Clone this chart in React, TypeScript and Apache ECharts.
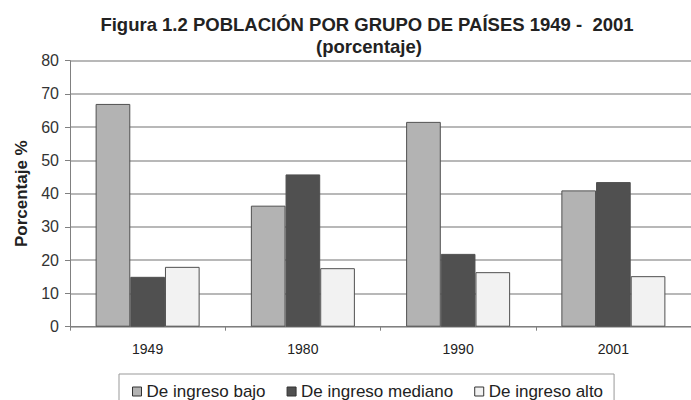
import React, { useEffect, useRef } from "react";
import * as echarts from "echarts";

const categories = ["1949", "1980", "1990", "2001"];
const seriesNames = ["De ingreso bajo", "De ingreso mediano", "De ingreso alto"];
const bajo = [67, 36.4, 61.6, 41];
const mediano = [15, 45.8, 21.9, 43.5];
const alto = [18, 17.6, 16.4, 15.2];
const colors = ["#b3b3b3", "#505050", "#f2f2f2"];
const yTicks = { min: 0, max: 80, interval: 10 };

const FONT = "'Liberation Sans', Arial, sans-serif";

export default function App() {
  const ref = useRef<HTMLDivElement>(null);
  useEffect(() => {
    document.body.style.margin = "0";
    const chart = echarts.init(ref.current!, null, { renderer: "svg" });
    const values = [bajo, mediano, alto];
    chart.setOption({
      animation: false,
      textStyle: { fontFamily: FONT },
      title: [
        {
          text: "Figura 1.2 POBLACIÓN POR GRUPO DE PAÍSES 1949 -  2001",
          left: 362,
          top: 10,
          textAlign: "center",
          textStyle: { fontFamily: FONT, fontSize: 18.5, fontWeight: "bold", color: "#222" },
        },
        {
          text: "(porcentaje)",
          left: 364,
          top: 32,
          textAlign: "center",
          textStyle: { fontFamily: FONT, fontSize: 18.5, fontWeight: "bold", color: "#222" },
        },
      ],
      legend: {
        data: seriesNames,
        left: 119,
        top: 374,
        padding: [9, 11, 8, 13],
        borderColor: "#999",
        borderWidth: 1,
        icon: "rect",
        itemWidth: 9,
        itemHeight: 9,
        itemGap: 21,
        itemStyle: { borderColor: "#333", borderWidth: 1 },
        textStyle: { fontFamily: FONT, fontSize: 17, color: "#222" },
      },
      grid: { left: 70, top: 60.7, width: 630, height: 266 },
      xAxis: {
        type: "category",
        data: categories,
        axisLine: { lineStyle: { color: "#808080", width: 1 } },
        axisTick: { show: true, length: 4, lineStyle: { color: "#808080" } },
        axisLabel: { fontFamily: FONT, fontSize: 14, color: "#222", margin: 15 },
      },
      yAxis: {
        type: "value",
        min: yTicks.min,
        max: yTicks.max,
        interval: yTicks.interval,
        name: "Porcentaje %",
        nameLocation: "middle",
        nameRotate: 90,
        nameGap: 40,
        nameTextStyle: { fontFamily: FONT, fontSize: 17, fontWeight: "bold", color: "#222" },
        axisLine: { show: true, lineStyle: { color: "#808080", width: 1 } },
        axisTick: { show: true, length: 5, lineStyle: { color: "#808080" } },
        axisLabel: { fontFamily: FONT, fontSize: 16, color: "#333", margin: 11 },
        splitLine: { show: true, lineStyle: { color: "#a0a0a0", width: 1.5 } },
      },
      series: seriesNames.map((name, i) => ({
        name,
        type: "bar",
        data: values[i],
        barGap: "0%",
        barCategoryGap: "33%",
        itemStyle: { color: colors[i], borderColor: "#505050", borderWidth: 1 },
      })),
    });
    return () => chart.dispose();
  }, []);
  return <div ref={ref} style={{ width: 691, height: 400 }} />;
}
